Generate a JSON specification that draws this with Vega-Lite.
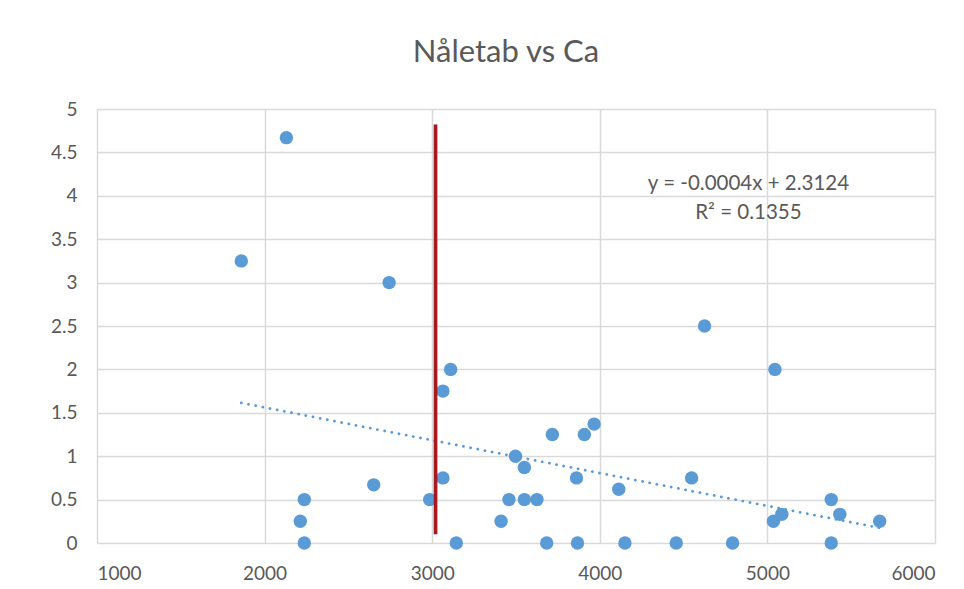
{
  "$schema": "https://vega.github.io/schema/vega-lite/v6.json",
  "width": 838,
  "height": 434,
  "autosize": {"type": "none"},
  "padding": {"left": 97, "top": 109, "right": 29, "bottom": 46},
  "background": "white",
  "title": {
    "text": "Nåletab vs Ca",
    "font": "Lato",
    "fontSize": 31,
    "fontWeight": "normal",
    "color": "#595959",
    "anchor": "middle",
    "frame": "group",
    "baseline": "alphabetic",
    "offset": 7,
    "dx": -10
  },
  "config": {
    "view": {"stroke": null},
    "axis": {
      "labelFont": "Lato",
      "labelFontSize": 19,
      "labelColor": "#595959",
      "gridColor": "#D9D9D9",
      "gridWidth": 1.5,
      "domain": false,
      "ticks": false,
      "title": null
    }
  },
  "datasets": {
    "samples": [
      {"ca": 1861, "naletab": 3.25},
      {"ca": 2130, "naletab": 4.67},
      {"ca": 2213, "naletab": 0.25},
      {"ca": 2237, "naletab": 0.5},
      {"ca": 2237, "naletab": 0},
      {"ca": 2651, "naletab": 0.67},
      {"ca": 2743, "naletab": 3.0},
      {"ca": 2985, "naletab": 0.5},
      {"ca": 3064, "naletab": 1.75},
      {"ca": 3064, "naletab": 0.75},
      {"ca": 3110, "naletab": 2.0},
      {"ca": 3144, "naletab": 0},
      {"ca": 3411, "naletab": 0.25},
      {"ca": 3458, "naletab": 0.5},
      {"ca": 3497, "naletab": 1.0},
      {"ca": 3550, "naletab": 0.87},
      {"ca": 3550, "naletab": 0.5},
      {"ca": 3625, "naletab": 0.5},
      {"ca": 3683, "naletab": 0},
      {"ca": 3717, "naletab": 1.25},
      {"ca": 3861, "naletab": 0.75},
      {"ca": 3867, "naletab": 0},
      {"ca": 3908, "naletab": 1.25},
      {"ca": 3966, "naletab": 1.37},
      {"ca": 4113, "naletab": 0.62},
      {"ca": 4150, "naletab": 0},
      {"ca": 4456, "naletab": 0},
      {"ca": 4548, "naletab": 0.75},
      {"ca": 4625, "naletab": 2.5},
      {"ca": 4792, "naletab": 0},
      {"ca": 5045, "naletab": 2.0},
      {"ca": 5036, "naletab": 0.25},
      {"ca": 5086, "naletab": 0.33},
      {"ca": 5381, "naletab": 0.5},
      {"ca": 5381, "naletab": 0},
      {"ca": 5432, "naletab": 0.33},
      {"ca": 5670, "naletab": 0.25}
    ],
    "threshold": [
      {"ca": 3020, "low": 0.1, "high": 4.82}
    ],
    "fitLabel": [
      {"line1": "y = -0.0004x + 2.3124", "line2": "R² = 0.1355"}
    ]
  },
  "layer": [
    {
      "data": {"name": "samples"},
      "transform": [{"regression": "naletab", "on": "ca"}],
      "mark": {
        "type": "line",
        "color": "#5B9BD5",
        "strokeWidth": 2.8,
        "strokeDash": [0.1, 7.2],
        "strokeCap": "round"
      },
      "encoding": {
        "x": {
          "field": "ca",
          "type": "quantitative",
          "scale": {"domain": [1000, 6000], "nice": false, "zero": false},
          "axis": {"values": [1000, 2000, 3000, 4000, 5000, 6000], "format": "d", "labelPadding": 21}
        },
        "y": {
          "field": "naletab",
          "type": "quantitative",
          "scale": {"domain": [0, 5], "nice": false},
          "axis": {"values": [0, 0.5, 1, 1.5, 2, 2.5, 3, 3.5, 4, 4.5, 5], "format": "~g", "labelPadding": 20}
        }
      }
    },
    {
      "data": {"name": "samples"},
      "mark": {"type": "circle", "size": 180, "color": "#5B9BD5", "opacity": 1},
      "encoding": {
        "x": {"field": "ca", "type": "quantitative"},
        "y": {"field": "naletab", "type": "quantitative"}
      }
    },
    {
      "data": {"name": "threshold"},
      "mark": {"type": "rule", "color": "#A8191F", "strokeWidth": 3.7},
      "encoding": {
        "x": {"field": "ca", "type": "quantitative"},
        "y": {"field": "low", "type": "quantitative"},
        "y2": {"field": "high"}
      }
    },
    {
      "data": {"name": "fitLabel"},
      "mark": {"type": "text", "font": "Lato", "fontSize": 20.5, "color": "#595959", "align": "center", "baseline": "alphabetic"},
      "encoding": {
        "x": {"datum": 4887, "type": "quantitative"},
        "y": {"datum": 4.066, "type": "quantitative"},
        "text": {"field": "line1"}
      }
    },
    {
      "data": {"name": "fitLabel"},
      "mark": {"type": "text", "font": "Lato", "fontSize": 20.5, "color": "#595959", "align": "center", "baseline": "alphabetic"},
      "encoding": {
        "x": {"datum": 4887, "type": "quantitative"},
        "y": {"datum": 3.73, "type": "quantitative"},
        "text": {"field": "line2"}
      }
    }
  ]
}
